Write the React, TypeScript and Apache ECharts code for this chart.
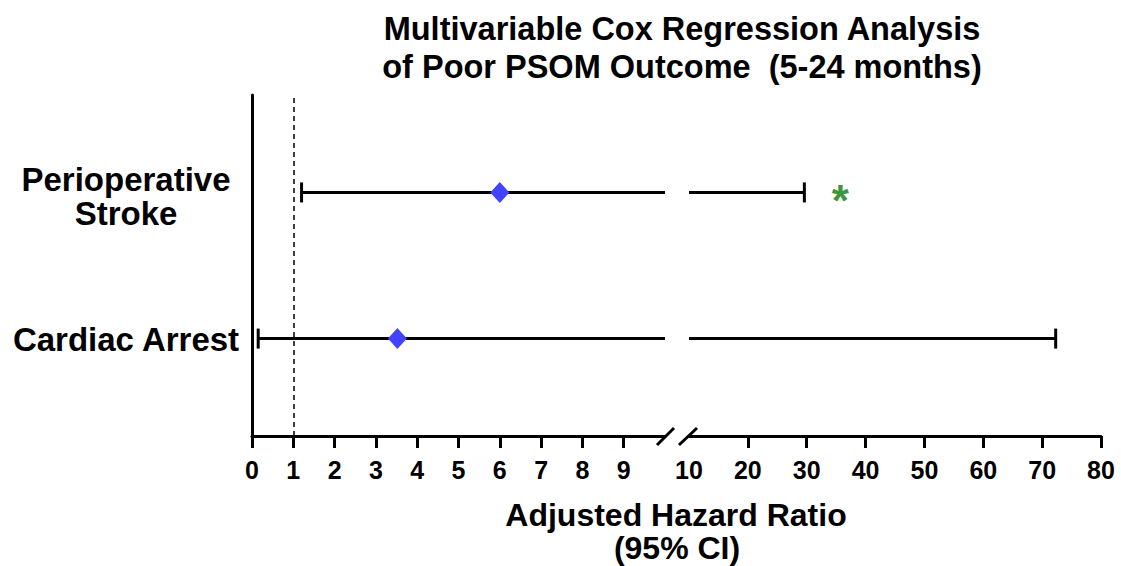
import React, { useEffect, useRef } from "react";
import * as echarts from "echarts";

// ---- data ----
const categories = ["Cardiac Arrest", "Perioperative\nStroke"];
const yPos = [1, 2.5];
const hazardRatio = [3.52, 6.0];
const ciLow = [0.15, 1.2];
const ciHigh = [72.3, 29.6];
const sigMarkX: (number | null)[] = [null, 35.7];
const leftTickValues = [0, 1, 2, 3, 4, 5, 6, 7, 8, 9];
const rightTickValues = [20, 30, 40, 50, 60, 70, 80];
const rightLabelValues = [10, 20, 30, 40, 50, 60, 70, 80];
const breakAt = 10;
const refLine = 1;
const xTitleLines = ["Adjusted Hazard Ratio", "(95% CI)"];

const FONT = "'Liberation Sans', Arial, Helvetica, sans-serif";

export default function App() {
  const ref = useRef<HTMLDivElement>(null);
  useEffect(() => {
    if (!ref.current) return;
    const chart = echarts.init(ref.current, undefined, { renderer: "svg" });

    const barData = yPos.map((y, i) => [y, hazardRatio[i], ciLow[i], ciHigh[i]]);

    const renderBar = (params: any, api: any) => {
      const cs = params.coordSys;
      const y = api.value(0);
      const lo = api.value(2);
      const hi = api.value(3);
      const pLo = api.coord([lo, y]);
      const pHi = api.coord([hi, y]);
      const minX = cs.x;
      const maxX = cs.x + cs.width;
      const x1 = Math.max(minX, Math.min(maxX, pLo[0]));
      const x2 = Math.max(minX, Math.min(maxX, pHi[0]));
      const children: any[] = [];
      const st = { stroke: "#000", lineWidth: 3 };
      if (x2 > x1) {
        children.push({ type: "line", shape: { x1, y1: pLo[1], x2, y2: pLo[1] }, style: st });
      }
      if (pLo[0] >= minX - 0.5 && pLo[0] <= maxX + 0.5) {
        children.push({ type: "line", shape: { x1: pLo[0], y1: pLo[1] - 10, x2: pLo[0], y2: pLo[1] + 10 }, style: st });
      }
      if (pHi[0] >= minX - 0.5 && pHi[0] <= maxX + 0.5) {
        children.push({ type: "line", shape: { x1: pHi[0], y1: pHi[1] - 10, x2: pHi[0], y2: pHi[1] + 10 }, style: st });
      }
      return { type: "group", children };
    };

    const tickLabelStyle = {
      color: "#000",
      fontFamily: FONT,
      fontWeight: "bold" as const,
      fontSize: 25,
      margin: 21,
    };

    const slashes = [
      {
        type: "line",
        shape: { x1: 657, y1: 445, x2: 674, y2: 428 },
        style: { stroke: "#000", lineWidth: 3 },
        z: 10,
      },
      {
        type: "line",
        shape: { x1: 679, y1: 445, x2: 697, y2: 428 },
        style: { stroke: "#000", lineWidth: 3 },
        z: 10,
      },
    ];

    const xTitleStyle = { fontFamily: FONT, fontWeight: "bold", fontSize: 32, lineHeight: 30, color: "#000" };

    const option: any = {
      animation: false,
      backgroundColor: "#fff",
      textStyle: { fontFamily: FONT },
      title: [
        {
          text: "Multivariable Cox Regression Analysis\nof Poor PSOM Outcome  (5-24 months)",
          left: 677,
          top: 5,
          textAlign: "center",
          textStyle: { fontFamily: FONT, fontWeight: "bold", fontSize: 32.5, lineHeight: 38, color: "#000" },
        },
        {
          text: xTitleLines[0],
          left: 676,
          top: 500,
          padding: 0,
          textAlign: "center",
          textStyle: xTitleStyle,
        },
        {
          text: xTitleLines[1],
          left: 677,
          top: 533,
          padding: 0,
          textAlign: "center",
          textStyle: xTitleStyle,
        },
      ],
      grid: [
        { left: 252, top: 95, width: 413, height: 341 },
        { left: 689, top: 95, width: 412, height: 341 },
      ],
      xAxis: [
        {
          gridIndex: 0,
          type: "value",
          min: 0,
          max: breakAt,
          interval: 1,
          axisLine: { show: true, lineStyle: { color: "#000", width: 3 } },
          axisTick: { show: true, length: 12, lineStyle: { color: "#000", width: 3 }, customValues: leftTickValues },
          axisLabel: { ...tickLabelStyle, customValues: leftTickValues },
          splitLine: { show: false },
        },
        {
          gridIndex: 1,
          type: "value",
          min: breakAt,
          max: 80,
          interval: 10,
          axisLine: { show: true, lineStyle: { color: "#000", width: 3 } },
          axisTick: { show: true, length: 12, lineStyle: { color: "#000", width: 3 }, customValues: rightTickValues },
          axisLabel: { ...tickLabelStyle, customValues: rightLabelValues },
          splitLine: { show: false },
        },
      ],
      yAxis: [
        {
          gridIndex: 0,
          type: "value",
          min: 0,
          max: 3.5,
          interval: 0.5,
          axisLine: { show: true, lineStyle: { color: "#000", width: 3 } },
          axisTick: { show: false },
          splitLine: { show: false },
          axisLabel: { show: false },
        },
        {
          gridIndex: 1,
          type: "value",
          min: 0,
          max: 3.5,
          interval: 0.5,
          show: false,
        },
      ],
      series: [
        {
          type: "custom",
          xAxisIndex: 0,
          yAxisIndex: 0,
          data: barData,
          renderItem: renderBar,
          encode: { x: [2, 3], y: 0 },
          z: 2,
        },
        {
          type: "custom",
          xAxisIndex: 1,
          yAxisIndex: 1,
          data: barData,
          renderItem: renderBar,
          encode: { x: [2, 3], y: 0 },
          z: 2,
        },
        {
          type: "scatter",
          xAxisIndex: 0,
          yAxisIndex: 0,
          data: yPos.map((y, i) => [hazardRatio[i], y]).filter((d) => d[0] <= breakAt),
          symbol: "diamond",
          symbolSize: [19, 21],
          itemStyle: { color: "#4343ff", opacity: 1 },
          z: 5,
          markLine: {
            silent: true,
            symbol: "none",
            label: { show: false },
            lineStyle: { color: "#000", width: 1.5, type: [5, 4] },
            data: [{ xAxis: refLine }],
            z: 1,
          },
        },
        {
          type: "scatter",
          xAxisIndex: 1,
          yAxisIndex: 1,
          data: yPos.map((y, i) => [hazardRatio[i], y]).filter((d) => d[0] > breakAt),
          symbol: "diamond",
          symbolSize: [19, 21],
          itemStyle: { color: "#4343ff" },
          z: 5,
        },
        {
          type: "scatter",
          xAxisIndex: 1,
          yAxisIndex: 1,
          data: yPos
            .map((y, i) => [sigMarkX[i], y])
            .filter((d) => d[0] !== null),
          symbolSize: 1,
          itemStyle: { color: "rgba(0,0,0,0)" },
          label: {
            show: true,
            position: "inside",
            formatter: "*",
            color: "#067a06",
            fontFamily: FONT,
            fontWeight: "bold",
            fontSize: 44,
            offset: [0, 8],
          },
          z: 6,
        },
      ],
      graphic: slashes,
    };

    chart.setOption(option);

    // category labels placed at the y positions given by the axis scale
    const labelTexts = categories.map((c, i) => {
      const py = chart.convertToPixel({ yAxisIndex: 0 }, yPos[i]) as number;
      const multi = c.indexOf("\n") >= 0;
      return {
        type: "text",
        x: 126,
        y: py + (multi ? 4 : 1),
        style: {
          text: c,
          fill: "#000",
          font: "bold 33px " + FONT,
          align: "center",
          verticalAlign: "middle",
          lineHeight: 34,
        },
        z: 10,
      };
    });
    chart.setOption({ graphic: [...slashes, ...labelTexts] });

    return () => chart.dispose();
  }, []);

  return (
    <div
      ref={ref}
      style={{ position: "fixed", left: 0, top: 0, width: 1121, height: 566, background: "#fff" }}
    />
  );
}
